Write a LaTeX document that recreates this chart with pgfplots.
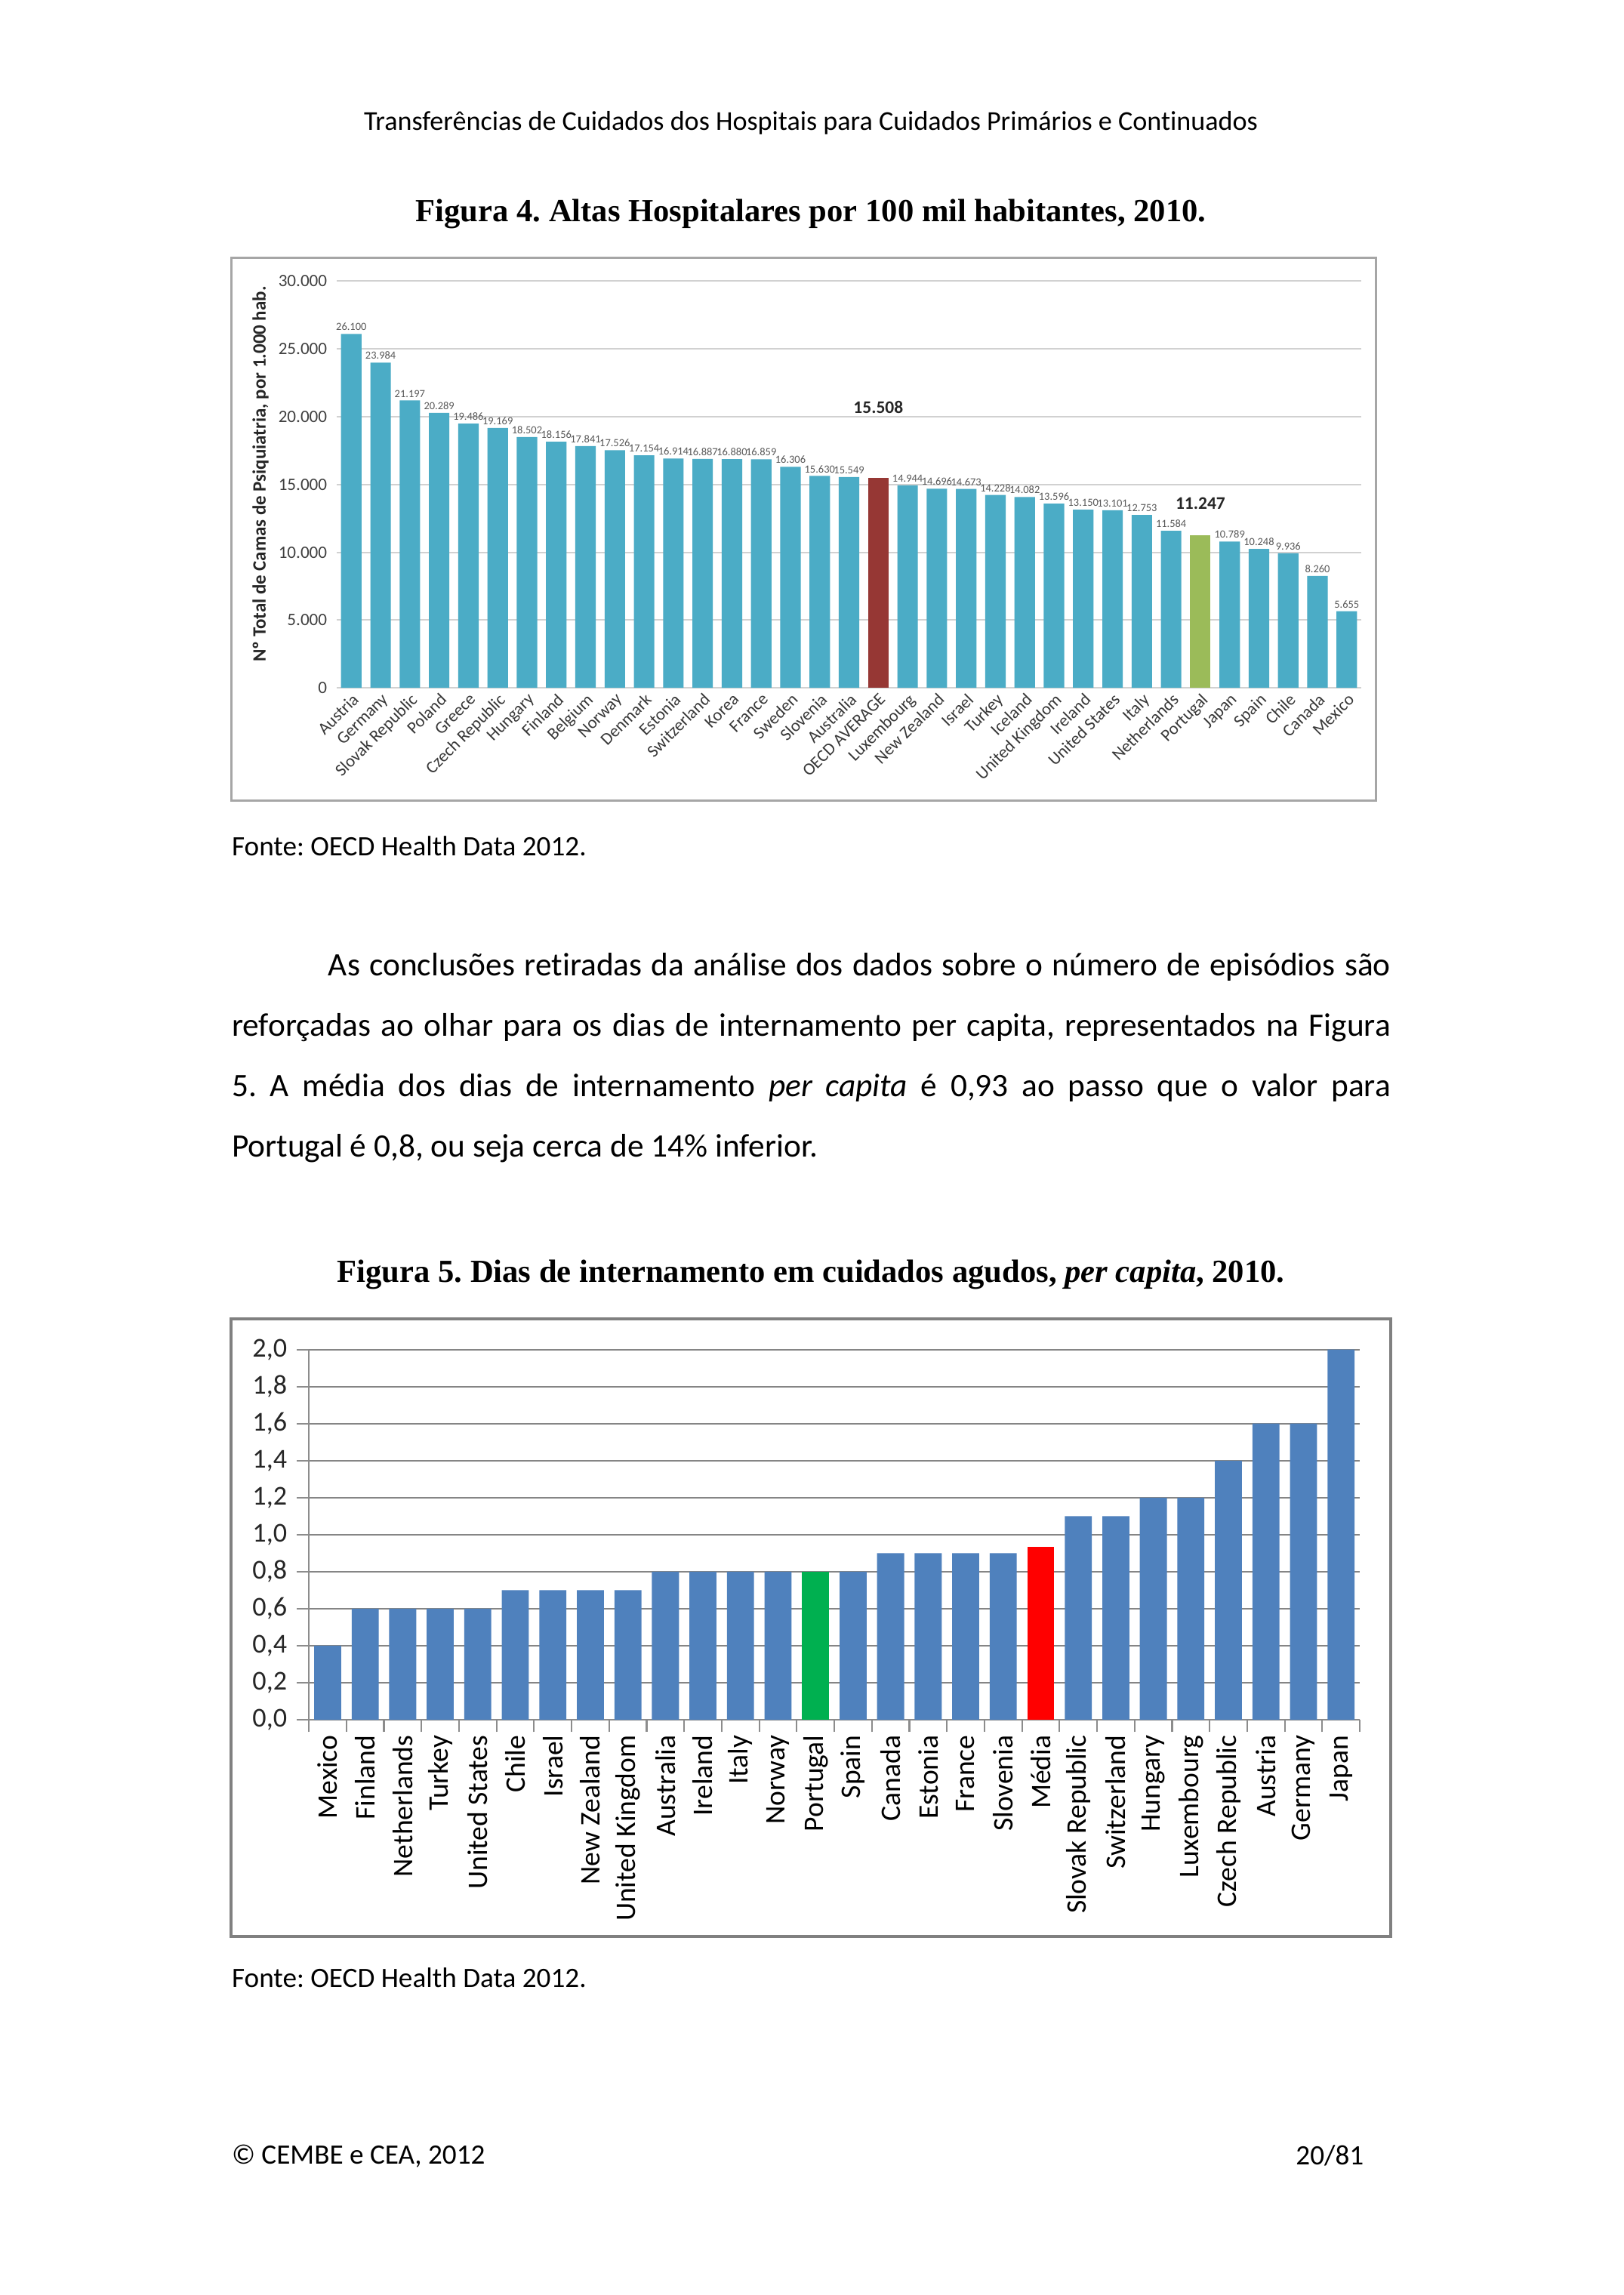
\documentclass[border=0pt]{standalone}
\usepackage{pgfplots}
\pgfplotsset{compat=1.18}
\usepackage{fontspec}
\setmainfont{Carlito}[Ligatures=NoCommon]
\newfontfamily\serifb{Liberation Serif}
\frenchspacing
\definecolor{cbar}{RGB}{75,172,198}
\definecolor{cavg}{RGB}{150,55,52}
\definecolor{cpt}{RGB}{155,187,89}
\definecolor{dbar}{RGB}{79,129,189}
\definecolor{dpt}{RGB}{0,176,80}
\definecolor{davg}{RGB}{255,0,0}
\begin{document}
\begin{tikzpicture}[x=0.5368pt,y=-0.5368pt]
\path[fill=white] (0,0) rectangle (1109,1568);
\coordinate (A1) at (230,470);
\coordinate (A2) at (211,1175);
% header
\node[font=\fontsize{10}{12}\selectfont, inner sep=0pt] at (554,84) {Transferências de Cuidados dos Hospitais para Cuidados Primários e Continuados};
\node[font=\serifb\bfseries\fontsize{11.8}{13}\selectfont, inner sep=0pt] at (554,146) {Figura 4. Altas Hospitalares por 100 mil habitantes, 2010.};
\draw[black!35, line width=0.8pt] (158,176) rectangle (940,547);
\node[rotate=90, font=\bfseries\fontsize{6.9}{8}\selectfont, color=black!85] at (178,324) {Nº Total de Camas de Psiquiatria, por 1.000 hab.};
\begin{axis}[at={(A1)}, anchor=south west, scale only axis,
  width=375.8pt, height=149.2pt,
  xmin=-0.5, xmax=34.5, ymin=0, ymax=30000,
  ytick={0,5000,10000,15000,20000,25000,30000},
  scaled y ticks=false,
  /pgf/number format/1000 sep={.},
  /pgf/number format/assume math mode=true,
  yticklabel style={font=\fontsize{6.4}{7}\selectfont, color=black!75},
  ymajorgrids, grid style={black!18, line width=0.6pt},
  axis line style={draw=none},
  major tick length=0pt,
  xtick={0,...,34},
  xticklabels={Austria,Germany,Slovak Republic,Poland,Greece,Czech Republic,Hungary,Finland,Belgium,Norway,Denmark,Estonia,Switzerland,Korea,France,Sweden,Slovenia,Australia,OECD AVERAGE,Luxembourg,New Zealand,Israel,Turkey,Iceland,United Kingdom,Ireland,United States,Italy,Netherlands,Portugal,Japan,Spain,Chile,Canada,Mexico},
  xticklabel style={rotate=45, anchor=north east, font=\fontsize{6.3}{7}\selectfont, color=black!78, inner sep=1pt},
  clip=false]
\addplot[ybar, bar width=0.7, bar shift=0pt, fill=cbar, draw=none,
  nodes near coords, every node near coord/.append style={font=\fontsize{4}{5}\selectfont, color=black!65, inner sep=1pt}]
 coordinates {(0,26100) (1,23984) (2,21197) (3,20289) (4,19486) (5,19169) (6,18502) (7,18156) (8,17841) (9,17526) (10,17154) (11,16914) (12,16887) (13,16880) (14,16859) (15,16306) (16,15630) (17,15549) (19,14944) (20,14696) (21,14673) (22,14228) (23,14082) (24,13596) (25,13150) (26,13101) (27,12753) (28,11584) (30,10789) (31,10248) (32,9936) (33,8260) (34,5655)};
\addplot[ybar, bar width=0.7, bar shift=0pt, fill=cavg, draw=none,
  nodes near coords, every node near coord/.append style={font=\bfseries\fontsize{6.5}{7}\selectfont, color=black!85, yshift=20pt}]
 coordinates {(18,15508)};
\addplot[ybar, bar width=0.7, bar shift=0pt, fill=cpt, draw=none,
  nodes near coords, every node near coord/.append style={font=\bfseries\fontsize{6.5}{7}\selectfont, color=black!85, yshift=6pt}]
 coordinates {(29,11247)};
\end{axis}
\node[anchor=west, inner sep=0pt, font=\fontsize{10.3}{12}\selectfont] at (158,578) {Fonte: OECD Health Data 2012.};
% paragraph
\node[anchor=north west, text width=425pt, align=justify, inner sep=0pt, font=\fontsize{12}{22.1}\selectfont] at (158,651) {\hspace*{35.4pt}As conclusões retiradas da análise dos dados sobre o número de episódios são\linebreak reforçadas ao olhar para os dias de internamento per capita, representados na Figura\linebreak 5. A média dos dias de internamento \textit{per capita} é 0,93 ao passo que o valor para\linebreak Portugal é 0,8, ou seja cerca de 14\% inferior.};
% figure 5
\node[font=\serifb\bfseries\fontsize{11.8}{13}\selectfont, inner sep=0pt] at (554,871) {Figura 5. Dias de internamento em cuidados agudos, \textit{per capita}, 2010.};
\draw[black!50, line width=1.1pt] (158,901) rectangle (950,1323);
\begin{axis}[at={(A2)}, anchor=south west, scale only axis,
  width=385.4pt, height=135.8pt,
  xmin=-0.5, xmax=27.5, ymin=0, ymax=2,
  ytick={0,0.2,0.4,0.6,0.8,1.0,1.2,1.4,1.6,1.8,2.0},
  /pgf/number format/fixed, /pgf/number format/fixed zerofill,
  /pgf/number format/precision=1, /pgf/number format/use comma,
  /pgf/number format/assume math mode=true,
  yticklabel style={font=\fontsize{10}{12}\selectfont, color=black!85},
  ymajorgrids, grid style={black!48, line width=0.6pt},
  axis lines*=left, axis line style={black!45, line width=0.6pt},
  tick align=outside, major tick length=4.5pt, tick style={black!45, line width=0.6pt},
  xtick={-0.5,0.5,...,27.5}, xticklabels={},
  extra x ticks={0,...,27},
  extra x tick labels={Mexico,Finland,Netherlands,Turkey,United States,Chile,Israel,New Zealand,United Kingdom,Australia,Ireland,Italy,Norway,Portugal,Spain,Canada,Estonia,France,Slovenia,Média,Slovak Republic,Switzerland,Hungary,Luxembourg,Czech Republic,Austria,Germany,Japan},
  extra x tick style={major tick length=0pt, grid=none, tick label style={rotate=90, anchor=east, font=\fontsize{10.4}{12}\selectfont, color=black, inner sep=2pt, xshift=-3.5pt}},
  clip=false]
\addplot[ybar, bar width=0.72, bar shift=0pt, fill=dbar, draw=none]
 coordinates {(0,0.4) (1,0.6) (2,0.6) (3,0.6) (4,0.6) (5,0.7) (6,0.7) (7,0.7) (8,0.7) (9,0.8) (10,0.8) (11,0.8) (12,0.8) (14,0.8) (15,0.9) (16,0.9) (17,0.9) (18,0.9) (20,1.1) (21,1.1) (22,1.2) (23,1.2) (24,1.4) (25,1.6) (26,1.6) (27,2.0)};
\addplot[ybar, bar width=0.72, bar shift=0pt, fill=dpt, draw=none] coordinates {(13,0.8)};
\addplot[ybar, bar width=0.72, bar shift=0pt, fill=davg, draw=none] coordinates {(19,0.935)};
\end{axis}
\node[anchor=west, inner sep=0pt, font=\fontsize{10.3}{12}\selectfont] at (158,1351) {Fonte: OECD Health Data 2012.};
% footer
\node[anchor=west, inner sep=0pt, font=\fontsize{10.3}{12}\selectfont] at (158,1473) {© CEMBE e CEA, 2012};
\node[anchor=east, inner sep=0pt, font=\fontsize{10.3}{12}\selectfont] at (932,1473) {20/81};
\end{tikzpicture}
\end{document}
